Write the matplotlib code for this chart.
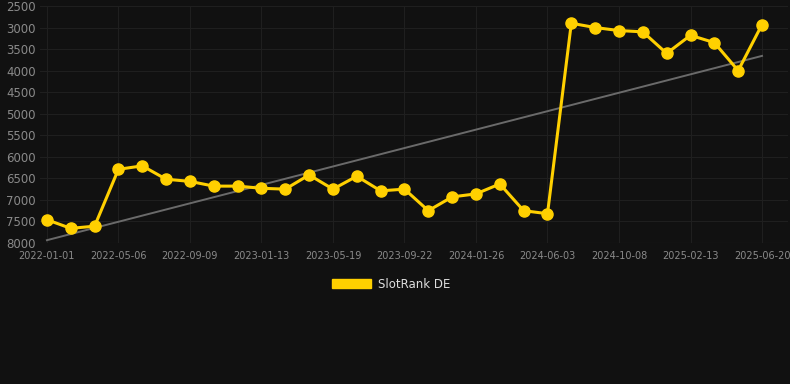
import matplotlib
matplotlib.use("Agg")
import matplotlib.pyplot as plt
from matplotlib.patches import Patch
import numpy as np

tick_labels = ["2022-01-01", "2022-05-06", "2022-09-09", "2023-01-13", "2023-05-19",
               "2023-09-22", "2024-01-26", "2024-06-03", "2024-10-08", "2025-02-13",
               "2025-06-20"]
rank_de = [7460, 7660, 7610, 6290, 6210, 6520, 6570, 6680, 6680, 6730, 6750,
           6420, 6750, 6450, 6790, 6750, 7250, 6930, 6860, 6630, 7250, 7320,
           2900, 3000, 3070, 3100, 3600, 3180, 3350, 4000, 2930]
y_ticks = [2500, 3000, 3500, 4000, 4500, 5000, 5500, 6000, 6500, 7000, 7500, 8000]

bg = "#111111"
yellow = "#FFD000"

fig = plt.figure(figsize=(7.9, 3.84), dpi=100, facecolor=bg)
ax = fig.add_axes([40/790, 1-243/384, 748/790, 237/384], facecolor=bg)

x = np.arange(len(rank_de))
coef = np.polyfit(x, rank_de, 1)
ax.plot(x, np.polyval(coef, x), color="#6a6a6a", lw=1.4, zorder=2)
ax.plot(x, rank_de, color=yellow, lw=2.2, marker="o", ms=8, zorder=3)

ax.set_ylim(8000, 2500)
ax.set_xlim(-0.29, 31.09)
ax.set_yticks(y_ticks)
ax.set_yticklabels([str(v) for v in y_ticks])
tick_pos = x[::3]
ax.set_xticks(tick_pos)
ax.set_xticklabels(tick_labels)

ax.grid(True, color="#1f1f1f", lw=0.8)
ax.set_axisbelow(True)
for s in ax.spines.values():
    s.set_visible(False)
ax.tick_params(axis="y", colors="#8a8a8a", labelsize=8.5, length=0, pad=3)
ax.tick_params(axis="x", colors="#8a8a8a", labelsize=7, length=0, pad=6)
ax.axhline(8000, color="#2e2e2e", lw=0.8)

handle = Patch(facecolor=yellow, edgecolor=yellow)
fig.legend([handle], ["SlotRank DE"], loc="center", bbox_to_anchor=(391/790, 1-284/384),
           frameon=False, fontsize=8.5, labelcolor="#dddddd",
           handlelength=3.3, handleheight=0.85, handletextpad=0.6)

fig.savefig("out.png", dpi=100, facecolor=bg)
